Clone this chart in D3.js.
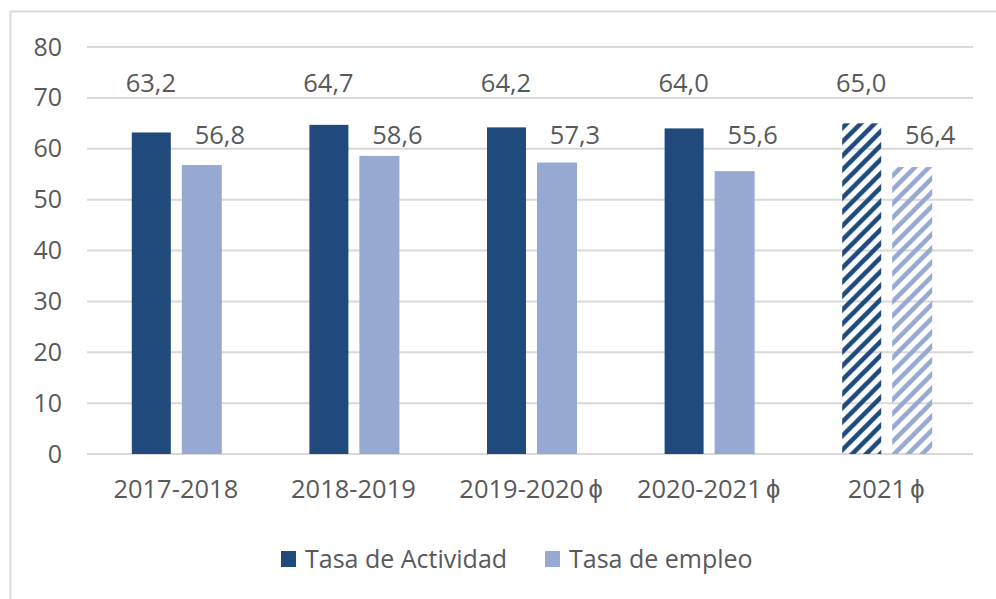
<!DOCTYPE html>
<html>
<head>
<meta charset="utf-8">
<script src="https://cdn.jsdelivr.net/npm/d3@7"></script>
<style>
  html, body { margin: 0; padding: 0; background: #fff; }
  svg { display: block; font-family: "Open Sans", sans-serif; }
</style>
</head>
<body>
<div id="chart"></div>
<script>
  // values
  var categories = ['2017-2018', '2018-2019', '2019-2020\u2009\u03d5', '2020-2021\u2009\u03d5', '2021\u2009\u03d5'];
  var actividad = [63.2, 64.7, 64.2, 64.0, 65.0];
  var empleo = [56.8, 58.6, 57.3, 55.6, 56.4];
  var hatched = [false, false, false, false, true];
  var yTicks = [0, 10, 20, 30, 40, 50, 60, 70, 80];
  var seriesNames = ['Tasa de Actividad', 'Tasa de empleo'];

  var W = 996, H = 599;
  var dark = '#1f4a7b', light = '#95a9d2', textCol = '#595959', gridCol = '#d9d9d9';

  var svg = d3.select('#chart').append('svg').attr('width', W).attr('height', H);

  // patterns for the hatched (provisional) bars
  var defs = svg.append('defs');
  [['hatch-dark', dark], ['hatch-light', light]].forEach(function (p) {
    var pat = defs.append('pattern').attr('id', p[0])
      .attr('patternUnits', 'userSpaceOnUse').attr('width', 14).attr('height', 14);
    pat.append('path')
      .attr('d', 'M0,14 L14,0 M-4,4 L4,-4 M10,18 L18,10')
      .attr('stroke', p[1]).attr('stroke-width', 4.5).attr('fill', 'none');
  });

  // chart frame (runs off the right and bottom edges)
  svg.append('rect').attr('x', 10.5).attr('y', 11.5).attr('width', W + 20).attr('height', H + 20)
    .attr('fill', 'none').attr('stroke', gridCol).attr('stroke-width', 2);

  var x = d3.scaleBand().domain(categories).range([87, 975]);
  var y = d3.scaleLinear().domain([0, 80]).range([454, 47]);

  // gridlines
  svg.append('g').selectAll('line').data(yTicks).enter().append('line')
    .attr('x1', 87).attr('x2', 973)
    .attr('y1', function (d) { return y(d); }).attr('y2', function (d) { return y(d); })
    .attr('stroke', gridCol).attr('stroke-width', 2);

  // y axis labels
  var yAxis = svg.append('g').attr('transform', 'translate(62,0)')
    .call(d3.axisLeft(y).tickValues(yTicks).tickSize(0).tickPadding(0));
  yAxis.select('.domain').remove();
  yAxis.selectAll('text').attr('fill', textCol).style('font-size', '25px')
    .style('font-family', '"Open Sans", sans-serif');

  // x axis labels
  var xAxis = svg.append('g').attr('transform', 'translate(0,480)')
    .call(d3.axisBottom(x).tickSize(0).tickPadding(0));
  xAxis.select('.domain').remove();
  xAxis.selectAll('text').attr('fill', textCol).style('font-size', '25.5px')
    .style('font-family', '"Open Sans", sans-serif');

  var barW = 39;
  var fmt = function (v) { return d3.format('.1f')(v).replace('.', ','); };

  var groups = svg.append('g').selectAll('g').data(categories).enter().append('g')
    .attr('transform', function (d) { return 'translate(' + (x(d) + x.bandwidth() / 2) + ',0)'; });

  groups.append('rect')
    .attr('x', -44).attr('width', barW)
    .attr('y', function (d, i) { return y(actividad[i]); })
    .attr('height', function (d, i) { return y(0) - y(actividad[i]); })
    .attr('fill', function (d, i) { return hatched[i] ? 'url(#hatch-dark)' : dark; });

  groups.append('rect')
    .attr('x', 6).attr('width', barW + 1)
    .attr('y', function (d, i) { return y(empleo[i]); })
    .attr('height', function (d, i) { return y(0) - y(empleo[i]); })
    .attr('fill', function (d, i) { return hatched[i] ? 'url(#hatch-light)' : light; });

  // data labels (placed at a fixed height, as in the original)
  groups.append('text')
    .attr('x', -25).attr('y', y(71.2))
    .attr('text-anchor', 'middle').attr('fill', textCol).style('font-size', '25.5px')
    .text(function (d, i) { return fmt(actividad[i]); });

  groups.append('text')
    .attr('x', 44).attr('y', y(60.9))
    .attr('text-anchor', 'middle').attr('fill', textCol).style('font-size', '25.5px')
    .text(function (d, i) { return fmt(empleo[i]); });

  // legend
  var legend = svg.append('g').attr('transform', 'translate(0,559)');
  var legendX = [281, 545];
  seriesNames.forEach(function (name, i) {
    legend.append('rect').attr('x', legendX[i]).attr('y', -8).attr('width', 15).attr('height', 16)
      .attr('fill', i === 0 ? dark : light);
    legend.append('text').attr('x', legendX[i] + 24).attr('y', 0).attr('dy', '0.35em')
      .attr('fill', textCol).style('font-size', '25px').text(name);
  });
</script>
</body>
</html>
